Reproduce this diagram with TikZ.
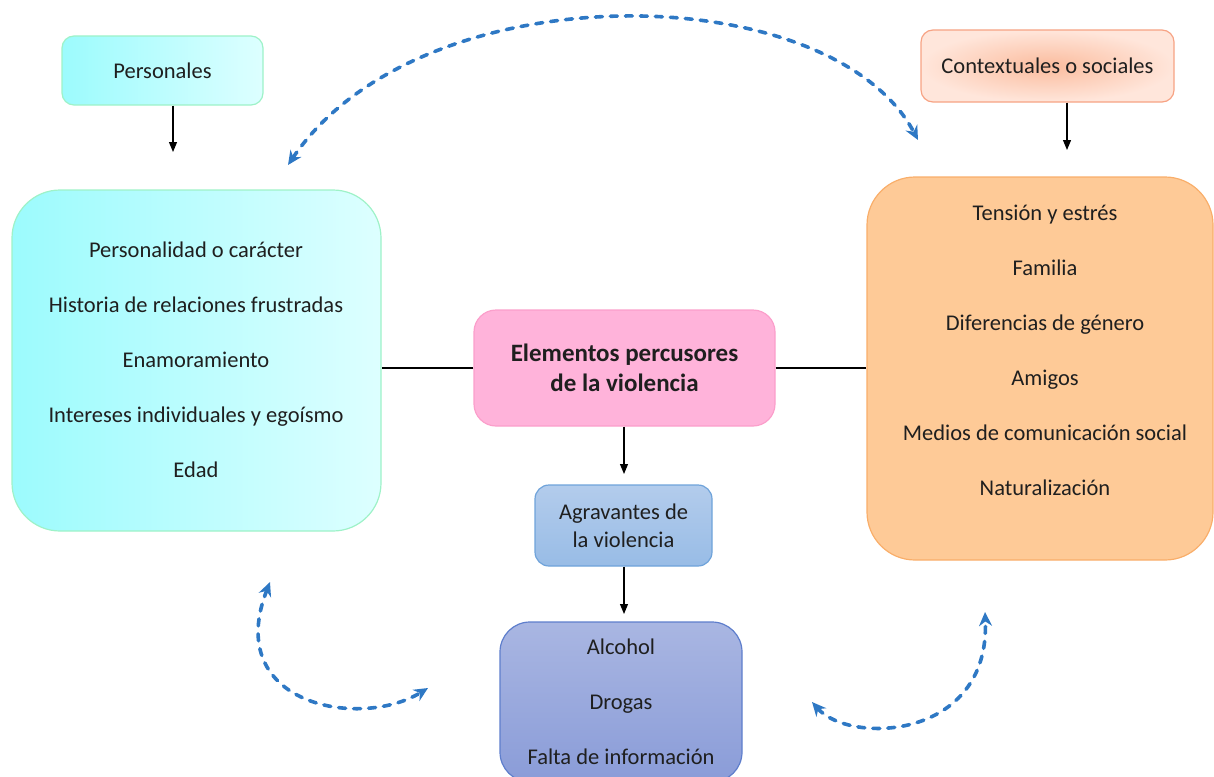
\documentclass[tikz,border=0pt]{standalone}
\usepackage{fontspec}
\setmainfont{Carlito}
\usetikzlibrary{arrows.meta}
\definecolor{cianfuerte}{HTML}{9CFBFD}
\definecolor{cianclaro}{HTML}{DDFFFF}
\definecolor{menta}{HTML}{9EF2C8}
\definecolor{salmon}{HTML}{FBBC9E}
\definecolor{salmonclaro}{HTML}{FFE6DB}
\definecolor{salmonborde}{HTML}{F7A384}
\definecolor{naranja}{HTML}{FECA97}
\definecolor{naranjaborde}{HTML}{F9AE6A}
\definecolor{rosa}{HTML}{FFB3DA}
\definecolor{rosaborde}{HTML}{FB9FCB}
\definecolor{celeste}{HTML}{B3CCEC}
\definecolor{celesteosc}{HTML}{98BCE6}
\definecolor{celesteborde}{HTML}{6FA3DA}
\definecolor{lila}{HTML}{A9B6E2}
\definecolor{lilaosc}{HTML}{8A9CD8}
\definecolor{lilaborde}{HTML}{5E7ECC}
\definecolor{azul}{HTML}{2E78C4}
\begin{document}
\begin{tikzpicture}[x=1pt,y=-1pt,
  caja/.style={draw,rounded corners=12pt,line width=1.2pt,align=center,inner sep=0pt,
    text=black!88,font=\fontsize{22.5}{28}\selectfont},
  lista/.style={align=center,text=black!88,font=\fontsize{22.5}{55}\selectfont},
  flecha/.style={-{Triangle[length=10pt,width=8pt]},line width=1.1pt},
  enlace/.style={{Stealth[length=14pt,width=13pt]}-{Stealth[length=14pt,width=13pt]},
    draw=azul,line width=3.6pt,line cap=round,dash pattern=on 7pt off 8pt}]
\useasboundingbox (0,0) rectangle (1214,776);
% cajas de arriba
\node[caja,minimum width=201pt,minimum height=69pt,draw=menta,
  left color=cianfuerte,right color=cianclaro] (pers) at (162.5,70.5) {Personales};
\node[caja,minimum width=253pt,minimum height=72pt,draw=salmonborde,
  inner color=salmon,outer color=salmonclaro] (ctx) at (1047.5,66) {Contextuales o sociales};
% cajas grandes
\node[caja,rounded corners=48pt,minimum width=369pt,minimum height=341pt,draw=menta,
  left color=cianfuerte,right color=cianclaro] (izq) at (196.5,360.5) {};
\node[lista] (izqlista) at (196,360) {Personalidad o carácter\\Historia de relaciones frustradas\\
  Enamoramiento\\Intereses individuales y egoísmo\\Edad};
\node[caja,rounded corners=48pt,minimum width=346pt,minimum height=383pt,draw=naranjaborde,
  fill=naranja] (der) at (1040,368.5) {};
\node[lista] (derlista) at (1045,350.5) {Tensión y estrés\\Familia\\Diferencias de género\\
  Amigos\\Medios de comunicación social\\Naturalización};
% centro
\node[caja,rounded corners=22pt,minimum width=301pt,minimum height=116pt,draw=rosaborde,
  fill=rosa,font=\fontsize{25}{30}\selectfont\bfseries] (centro) at (624.5,368)
  {Elementos percusores\\de la violencia};
\node[caja,rounded corners=14pt,minimum width=177pt,minimum height=81pt,draw=celesteborde,
  top color=celeste,bottom color=celesteosc] (agr) at (623.5,525.5) {Agravantes de\\la violencia};
\node[caja,lista,draw,rounded corners=30pt,minimum width=242pt,minimum height=160pt,
  draw=lilaborde,top color=lila,bottom color=lilaosc] (fondo) at (621,702)
  {Alcohol\\Drogas\\Falta de información};
% conectores
\coordinate (pfin) at (173,152);
\coordinate (cfin) at (1067,150);
\coordinate (agrfin) at (624,474);
\coordinate (fondofin) at (624,614);
\draw[flecha] (pers.south -| pfin) -- (pfin);
\draw[flecha] (ctx.south -| cfin) -- (cfin);
\draw[line width=1.1pt] (centro.west) -- (centro.west -| izq.east);
\draw[line width=1.1pt] (centro.east) -- (centro.east -| der.west);
\draw[flecha] (centro.south -| agrfin) -- (agrfin);
\draw[flecha] (agr.south -| fondofin) -- (fondofin);
% flechas punteadas
\coordinate (a1) at (288,165);
\coordinate (a2) at (918,140);
\coordinate (b1) at (270,582);
\coordinate (b2) at (428,688);
\coordinate (c1) at (812,702);
\coordinate (c2) at (985,612);
\draw[enlace] (a1) .. controls (420,-30) and (831,-24) .. (a2);
\draw[enlace] (b1) .. controls (222,705) and (360,730) .. (b2);
\draw[enlace] (c1) .. controls (850,745) and (990,740) .. (c2);
\end{tikzpicture}
\end{document}
